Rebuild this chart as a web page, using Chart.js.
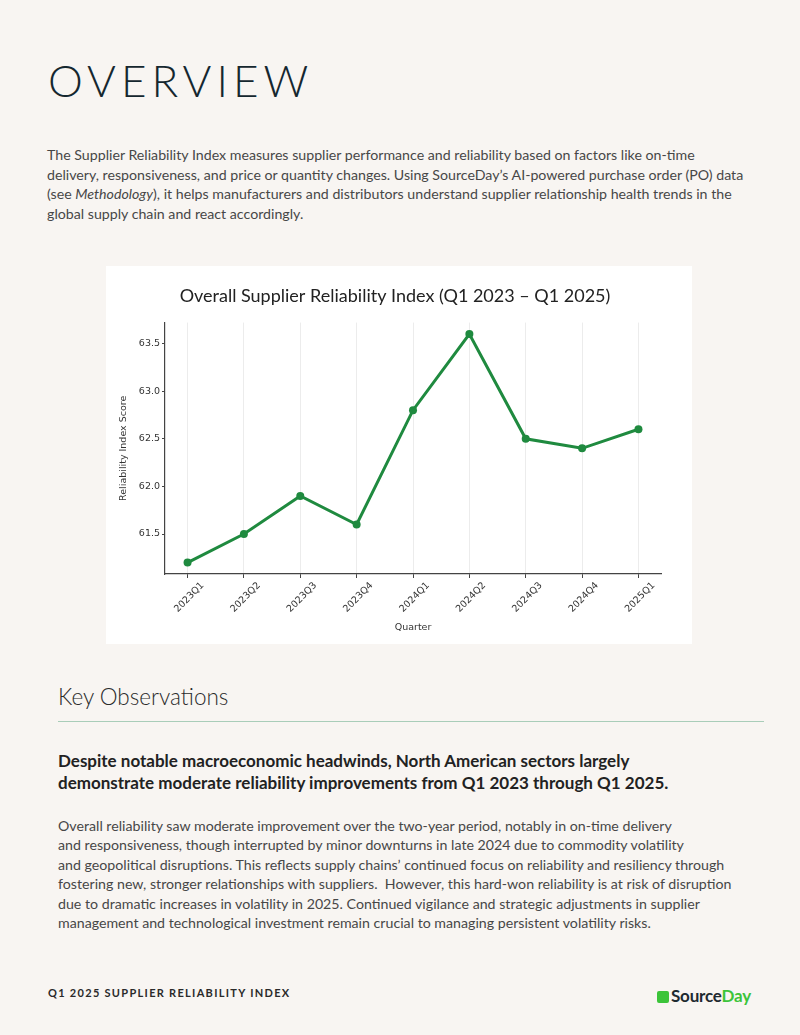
<!DOCTYPE html>
<html>
<head>
<meta charset="utf-8">
<script src="https://cdn.jsdelivr.net/npm/chart.js@4/dist/chart.umd.min.js"></script>
<style>
  html, body { margin: 0; padding: 0; }
  body {
    width: 800px; height: 1035px; position: relative; overflow: hidden;
    background: #f8f5f2; font-family: Lato, "Open Sans", sans-serif; color: #3f3f3f;
  }
  .abs { position: absolute; white-space: nowrap; }
  h1 {
    position: absolute; left: 48px; top: 58px; margin: 0;
    font-weight: 300; font-size: 44px; letter-spacing: 5px; color: #15272f; line-height: 44px;
  }
  .intro { left: 47px; top: 145px; font-size: 14.2px; line-height: 19.6px; font-weight: 400; color: #474747; }
  .card { position: absolute; left: 106px; top: 266px; width: 586px; height: 378px; background: #fff; }
  .key { left: 58px; top: 683px; font-size: 22.5px; font-weight: 300; color: #2b2b2b; }
  .rule { position: absolute; left: 58px; top: 721px; width: 706px; height: 1px; background: #a9cdb9; }
  .lead { left: 58px; top: 750px; font-size: 17px; line-height: 22px; font-weight: 700; color: #222; }
  .body2 { left: 58px; top: 816px; font-size: 14.2px; line-height: 19.4px; font-weight: 400; color: #474747; }
  .foot { left: 48px; top: 986px; font-size: 11px; letter-spacing: 1.3px; font-weight: 700; color: #2a2a2a; }
  .logo { left: 657px; top: 985px; font-size: 17px; font-weight: 700; color: #1e2a30; letter-spacing: -0.2px; }
  .logo .ic { display: inline-block; width: 12px; height: 12px; background: #3cc43a; border-radius: 2px; margin-right: 2px; vertical-align: -1px; }
  .logo .day { color: #3cc43a; }
</style>
</head>
<body>
<h1>OVERVIEW</h1>
<div class="abs intro">The Supplier Reliability Index measures supplier performance and reliability based on factors like on-time<br>delivery, responsiveness, and price or quantity changes. Using SourceDay’s AI-powered purchase order (PO) data<br>(see <i>Methodology</i>), it helps manufacturers and distributors understand supplier relationship health trends in the<br>global supply chain and react accordingly.</div>

<div class="card"><canvas id="chart"></canvas></div>

<div class="abs key">Key Observations</div>
<div class="rule"></div>
<div class="abs lead">Despite notable macroeconomic headwinds, North American sectors largely<br>demonstrate moderate reliability improvements from Q1 2023 through Q1 2025.</div>
<div class="abs body2">Overall reliability saw moderate improvement over the two-year period, notably in on-time delivery<br>and responsiveness, though interrupted by minor downturns in late 2024 due to commodity volatility<br>and geopolitical disruptions. This reflects supply chains’ continued focus on reliability and resiliency through<br>fostering new, stronger relationships with suppliers.&nbsp; However, this hard-won reliability is at risk of disruption<br>due to dramatic increases in volatility in 2025. Continued vigilance and strategic adjustments in supplier<br>management and technological investment remain crucial to managing persistent volatility risks.</div>

<div class="abs foot">Q1 2025 SUPPLIER RELIABILITY INDEX</div>
<div class="abs logo"><span class="ic"></span>Source<span class="day">Day</span></div>

<script>
const quarters = ['2023Q1', '2023Q2', '2023Q3', '2023Q4', '2024Q1', '2024Q2', '2024Q3', '2024Q4', '2025Q1'];
const scores = [61.2, 61.5, 61.9, 61.6, 62.8, 63.6, 62.5, 62.4, 62.6];
const yTicks = [61.5, 62.0, 62.5, 63.0, 63.5];

const green = '#1f8a3f';
const tickFont = { family: 'DejaVu Sans', size: 9.5 };

const ctx = document.getElementById('chart');
new Chart(ctx, {
  type: 'line',
  data: {
    datasets: [{
      data: scores.map((v, i) => ({ x: i, y: v })),
      borderColor: green,
      backgroundColor: green,
      borderWidth: 3,
      pointRadius: 4,
      pointBackgroundColor: green,
      pointBorderWidth: 0,
      tension: 0,
      fill: false
    }]
  },
  options: {
    responsive: true,
    maintainAspectRatio: false,
    animation: false,
    // left/right padding also centres the title box the way the original does
    layout: { padding: { left: 23, right: 31, top: 0, bottom: 0 } },
    plugins: {
      legend: { display: false },
      tooltip: { enabled: false },
      title: {
        display: true,
        text: 'Overall Supplier Reliability Index (Q1 2023 – Q1 2025)',
        color: '#222',
        font: { family: 'Lato', size: 18, weight: 'normal' },
        padding: { top: 19, bottom: 16 }
      }
    },
    scales: {
      x: {
        type: 'linear',
        min: -0.4,
        max: 8.4,
        afterBuildTicks: s => { s.ticks = quarters.map((q, i) => ({ value: i })); },
        afterFit: s => { s.height = 70; },
        grid: { color: '#ececec', lineWidth: 1, tickLength: 4, tickColor: '#444' },
        border: { color: '#444', width: 1.2 },
        ticks: {
          color: '#333', font: tickFont, minRotation: 45, maxRotation: 45,
          labelOffset: 15, padding: 2, autoSkip: false,
          callback: v => quarters[v]
        },
        title: { display: true, text: 'Quarter', color: '#333', font: tickFont, padding: { top: 4, bottom: 11 } }
      },
      y: {
        min: 61.08,
        max: 63.72,
        afterBuildTicks: s => { s.ticks = yTicks.map(v => ({ value: v })); },
        afterFit: s => { s.width = 36; },
        grid: { drawOnChartArea: false, tickLength: 3, tickColor: '#444' },
        border: { color: '#444', width: 1.2 },
        ticks: { color: '#333', font: tickFont, padding: 2, callback: v => v.toFixed(1) },
        title: { display: true, text: 'Reliability Index Score', color: '#333', font: tickFont, padding: { top: -11 } }
      }
    }
  }
});
</script>
</body>
</html>
